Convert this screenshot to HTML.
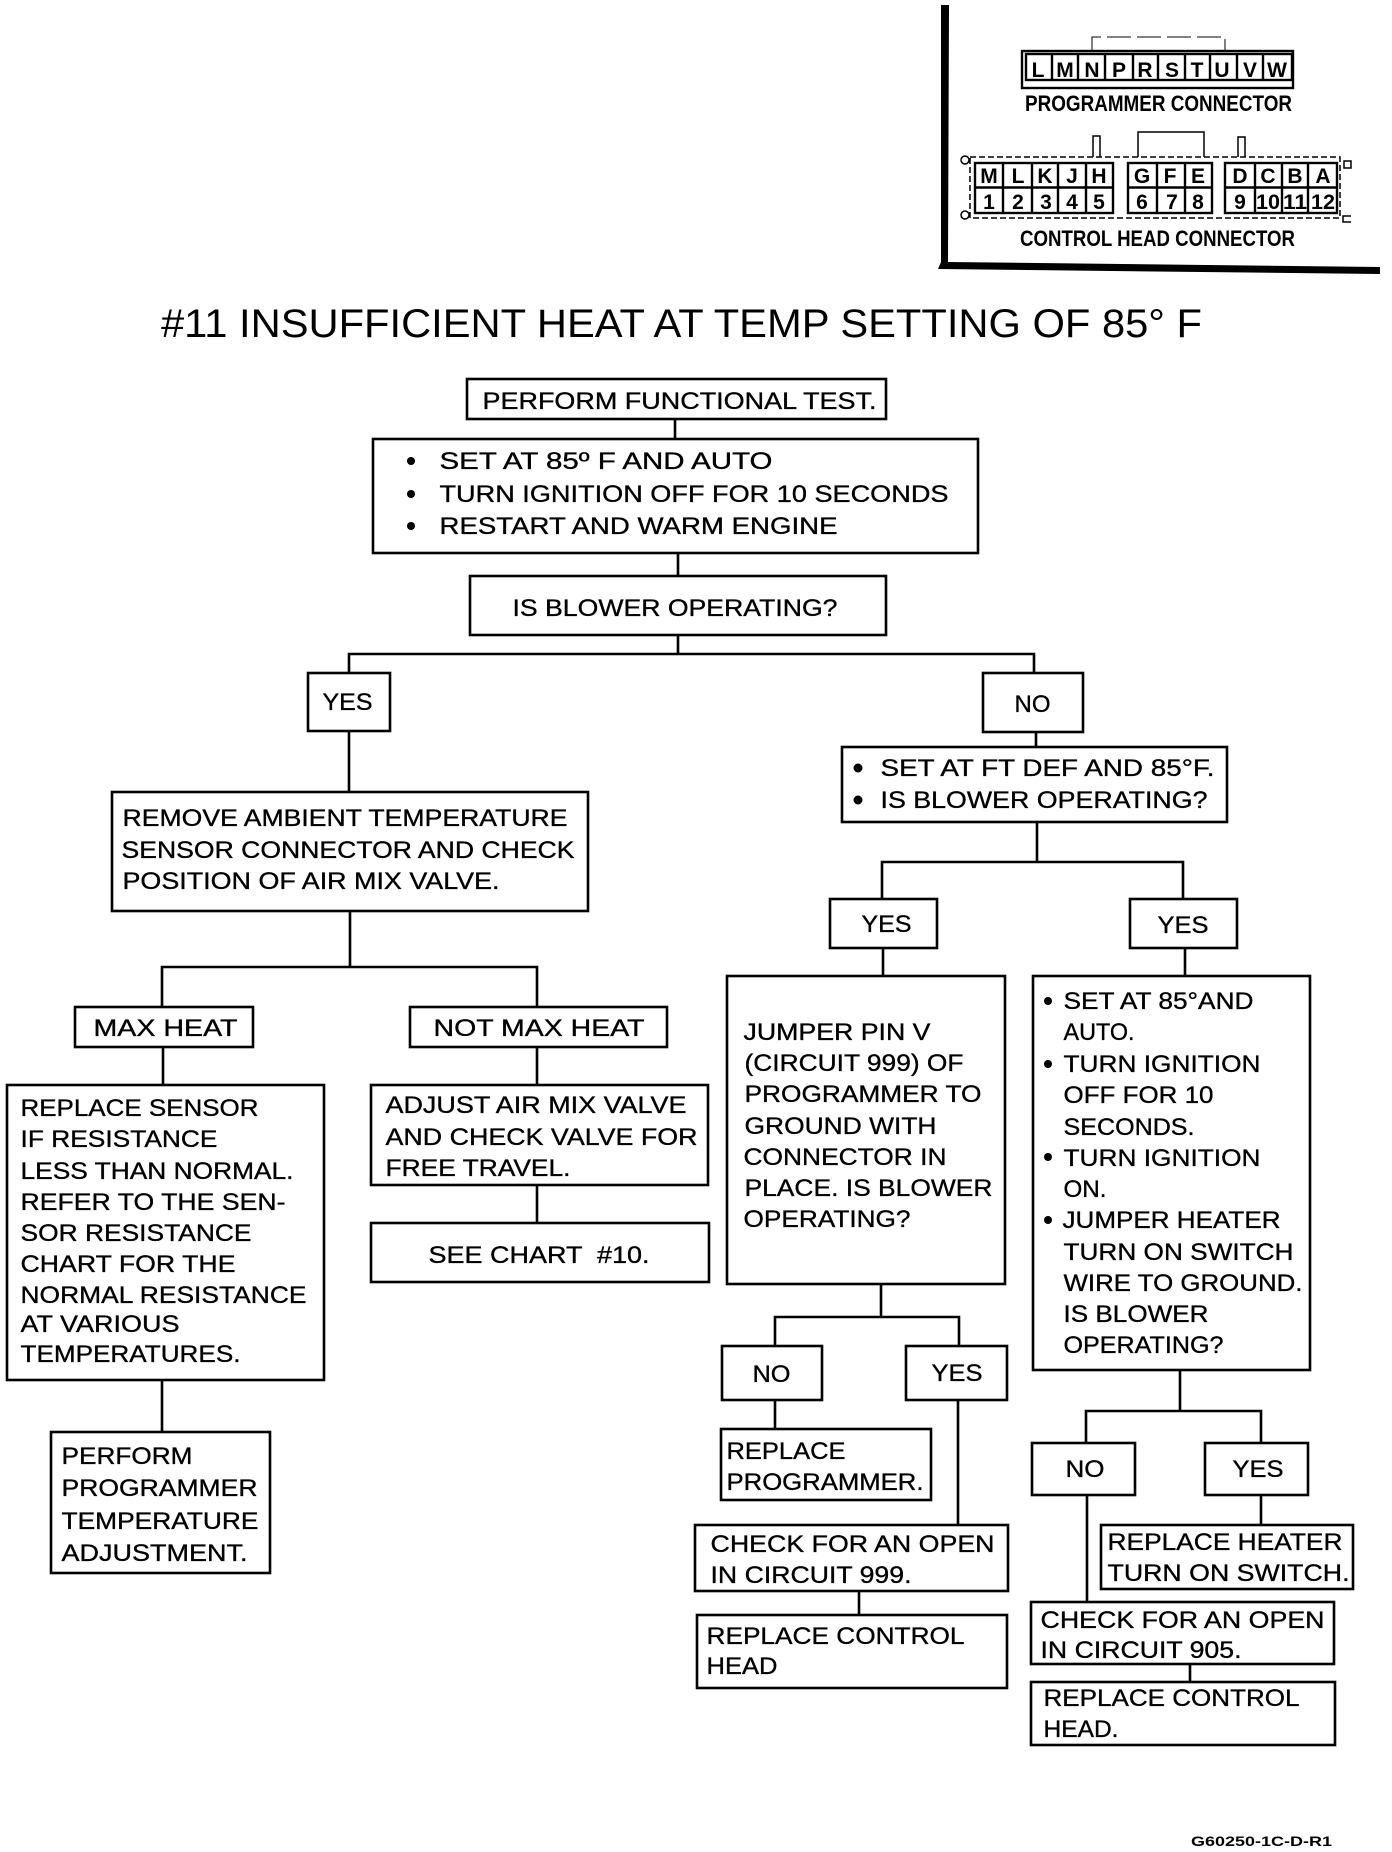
<!DOCTYPE html>
<html><head><meta charset="utf-8"><style>
html,body{margin:0;padding:0;background:#fff}
svg{display:block}
text{font-family:"Liberation Sans",sans-serif;fill:#000}
.t{font-size:24.5px;stroke:#000;stroke-width:.35px;transform:translate(-.5px,-1px)}
.b{fill:#fff;stroke:#000;stroke-width:2.6px}
.l{stroke:#000;stroke-width:2.6px;fill:none}
.c{fill:none;stroke:#000;stroke-width:2.4px}
.k{font-size:21px;font-weight:bold;text-anchor:middle}
.h{font-size:22px;font-weight:bold}
</style></head><body>
<svg width="1392" height="1852" viewBox="0 0 1392 1852" xmlns="http://www.w3.org/2000/svg">
<!-- connector panel -->
<polygon fill="#000" points="941,5 949,5 948,262 1380,267 1380,274 938,269 941,262"/>
<rect class="c" x="1022" y="51" width="271" height="37"/>
<rect class="c" x="1026" y="54" width="266" height="26"/>
<path class="c" d="M1052 54V80M1078 54V80M1105 54V80M1133 54V80M1158 54V80M1185 54V80M1210 54V80M1237 54V80M1263 54V80"/>
<path class="c" stroke-dasharray="24 6" style="stroke-width:1px" d="M1092 52V37H1225V52"/>
<text class="k" x="1038" y="77">L</text><text class="k" x="1065" y="77">M</text><text class="k" x="1092" y="77">N</text><text class="k" x="1119" y="77">P</text><text class="k" x="1145" y="77">R</text><text class="k" x="1172" y="77">S</text><text class="k" x="1197" y="77">T</text><text class="k" x="1222" y="77">U</text><text class="k" x="1250" y="77">V</text><text class="k" x="1277" y="77">W</text>
<text class="h" x="1025" y="111" textLength="267" lengthAdjust="spacingAndGlyphs">PROGRAMMER CONNECTOR</text>
<path class="c" stroke-dasharray="6 3" style="stroke-width:1.5px" d="M970 157H1340V218H970Z"/>
<rect class="c" x="975" y="163" width="138" height="50"/>
<rect class="c" x="1128" y="163" width="84" height="50"/>
<rect class="c" x="1225" y="163" width="112" height="50"/>
<path class="c" d="M975 187.500H1113M1128 187.500H1212M1225 187.500H1337M1003 163V213M1032 163V213M1058 163V213M1086 163V213M1157 163V213M1185 163V213M1255 163V213M1282 163V213M1308 163V213"/>
<path class="c" style="stroke-width:1.5px" d="M1093 157V136H1100V157M1238 157V137H1245V157M1138 157V132H1204V157"/>
<rect class="c" style="stroke-width:1.5px" x="1344" y="161" width="7" height="7"/>
<circle class="c" style="stroke-width:1.5px" cx="965" cy="160" r="4"/><circle class="c" style="stroke-width:1.5px" cx="965" cy="215" r="4"/>
<path class="c" style="stroke-width:1.5px" d="M1351 216H1343V222H1351"/>
<text class="k" x="989" y="183">M</text><text class="k" x="1018" y="183">L</text><text class="k" x="1045" y="183">K</text><text class="k" x="1072" y="183">J</text><text class="k" x="1099" y="183">H</text><text class="k" x="1142" y="183">G</text><text class="k" x="1170" y="183">F</text><text class="k" x="1198" y="183">E</text><text class="k" x="1240" y="183">D</text><text class="k" x="1268" y="183">C</text><text class="k" x="1295" y="183">B</text><text class="k" x="1323" y="183">A</text>
<text class="k" x="989" y="209">1</text><text class="k" x="1018" y="209">2</text><text class="k" x="1046" y="209">3</text><text class="k" x="1072" y="209">4</text><text class="k" x="1099" y="209">5</text><text class="k" x="1142" y="209">6</text><text class="k" x="1172" y="209">7</text><text class="k" x="1198" y="209">8</text><text class="k" x="1240" y="209">9</text><text class="k" x="1268" y="209" textLength="24" lengthAdjust="spacingAndGlyphs">10</text><text class="k" x="1295" y="209" textLength="24" lengthAdjust="spacingAndGlyphs">11</text><text class="k" x="1323" y="209" textLength="24" lengthAdjust="spacingAndGlyphs">12</text>
<text class="h" x="1020" y="246" textLength="275" lengthAdjust="spacingAndGlyphs">CONTROL HEAD CONNECTOR</text>
<!-- title -->
<text x="161" y="337" font-size="40" textLength="1041" lengthAdjust="spacingAndGlyphs">#11 INSUFFICIENT HEAT AT TEMP SETTING OF 85° F</text>
<!-- connectors -->
<path class="l" d="M675 419V439M678 553V576M678 635V654M349 673V654H1034V673M349 731V792M1036 732V747M1037 822V862M882 898V862H1183V898M883 948V976M1185 948V976M350 911V967M162 1007V967H537V1007M163 1047V1085M537 1047V1085M162 1380V1432M537 1185V1223M881 1284V1317M775 1346V1317H959V1346M775 1400V1429M958 1400V1525M859 1591V1615M1180 1370V1411M1086 1443V1411H1261V1443M1087 1495V1602M1261 1495V1525M1190 1664V1682"/>
<!-- boxes -->
<rect class="b" x="467" y="379" width="419" height="40"/>
<rect class="b" x="373" y="439" width="605" height="114"/>
<rect class="b" x="470" y="576" width="416" height="59"/>
<rect class="b" x="308" y="673" width="82" height="58"/>
<rect class="b" x="983" y="673" width="100" height="59"/>
<rect class="b" x="842" y="747" width="385" height="75"/>
<rect class="b" x="112" y="792" width="476" height="119"/>
<rect class="b" x="830" y="899" width="107" height="49"/>
<rect class="b" x="1130" y="899" width="107" height="49"/>
<rect class="b" x="75" y="1007" width="178" height="40"/>
<rect class="b" x="410" y="1007" width="257" height="40"/>
<rect class="b" x="7" y="1085" width="317" height="295"/>
<rect class="b" x="371" y="1085" width="337" height="100"/>
<rect class="b" x="371" y="1223" width="338" height="59"/>
<rect class="b" x="51" y="1432" width="219" height="141"/>
<rect class="b" x="727" y="976" width="278" height="308"/>
<rect class="b" x="1033" y="976" width="277" height="394"/>
<rect class="b" x="722" y="1346" width="100" height="54"/>
<rect class="b" x="906" y="1346" width="101" height="54"/>
<rect class="b" x="721" y="1429" width="210" height="71"/>
<rect class="b" x="695" y="1525" width="313" height="66"/>
<rect class="b" x="697" y="1615" width="310" height="73"/>
<rect class="b" x="1032" y="1443" width="103" height="52"/>
<rect class="b" x="1205" y="1443" width="103" height="52"/>
<rect class="b" x="1101" y="1525" width="252" height="64"/>
<rect class="b" x="1031" y="1602" width="303" height="62"/>
<rect class="b" x="1031" y="1682" width="304" height="63"/>
<!-- bullets -->
<g fill="#000">
<circle cx="411" cy="461" r="4"/><circle cx="411" cy="494" r="4"/><circle cx="411" cy="526" r="4"/>
<circle cx="858" cy="768" r="4.500"/><circle cx="858" cy="800" r="4.500"/>
<circle cx="1048" cy="1001" r="4"/><circle cx="1048" cy="1064" r="4"/><circle cx="1048" cy="1157" r="4"/><circle cx="1048" cy="1220" r="4"/>
</g>
<!-- text -->
<text class="t" x="483" y="410" textLength="394" lengthAdjust="spacingAndGlyphs">PERFORM FUNCTIONAL TEST.</text>
<text class="t" x="440" y="470" textLength="333" lengthAdjust="spacingAndGlyphs">SET AT 85º F AND AUTO</text>
<text class="t" x="440" y="503" textLength="509" lengthAdjust="spacingAndGlyphs">TURN IGNITION OFF FOR 10 SECONDS</text>
<text class="t" x="440" y="535" textLength="398" lengthAdjust="spacingAndGlyphs">RESTART AND WARM ENGINE</text>
<text class="t" x="513" y="617" textLength="325" lengthAdjust="spacingAndGlyphs">IS BLOWER OPERATING?</text>
<text class="t" x="323" y="711" textLength="50" lengthAdjust="spacingAndGlyphs">YES</text>
<text class="t" x="1015" y="713" textLength="36" lengthAdjust="spacingAndGlyphs">NO</text>
<text class="t" x="881" y="777" textLength="334" lengthAdjust="spacingAndGlyphs">SET AT FT DEF AND 85°F.</text>
<text class="t" x="881" y="809" textLength="327" lengthAdjust="spacingAndGlyphs">IS BLOWER OPERATING?</text>
<text class="t" x="123" y="827" textLength="445" lengthAdjust="spacingAndGlyphs">REMOVE AMBIENT TEMPERATURE</text>
<text class="t" x="122" y="859" textLength="453" lengthAdjust="spacingAndGlyphs">SENSOR CONNECTOR AND CHECK</text>
<text class="t" x="123" y="890" textLength="377" lengthAdjust="spacingAndGlyphs">POSITION OF AIR MIX VALVE.</text>
<text class="t" x="862" y="933" textLength="50" lengthAdjust="spacingAndGlyphs">YES</text>
<text class="t" x="1158" y="934" textLength="51" lengthAdjust="spacingAndGlyphs">YES</text>
<text class="t" x="94" y="1037" textLength="144" lengthAdjust="spacingAndGlyphs">MAX HEAT</text>
<text class="t" x="434" y="1037" textLength="211" lengthAdjust="spacingAndGlyphs">NOT MAX HEAT</text>
<text class="t" x="21" y="1117" textLength="238" lengthAdjust="spacingAndGlyphs">REPLACE SENSOR</text>
<text class="t" x="21" y="1148" textLength="197" lengthAdjust="spacingAndGlyphs">IF RESISTANCE</text>
<text class="t" x="21" y="1180" textLength="273" lengthAdjust="spacingAndGlyphs">LESS THAN NORMAL.</text>
<text class="t" x="21" y="1211" textLength="265" lengthAdjust="spacingAndGlyphs">REFER TO THE SEN-</text>
<text class="t" x="21" y="1242" textLength="231" lengthAdjust="spacingAndGlyphs">SOR RESISTANCE</text>
<text class="t" x="21" y="1273" textLength="215" lengthAdjust="spacingAndGlyphs">CHART FOR THE</text>
<text class="t" x="21" y="1304" textLength="286" lengthAdjust="spacingAndGlyphs">NORMAL RESISTANCE</text>
<text class="t" x="21" y="1333" textLength="159" lengthAdjust="spacingAndGlyphs">AT VARIOUS</text>
<text class="t" x="21" y="1363" textLength="220" lengthAdjust="spacingAndGlyphs">TEMPERATURES.</text>
<text class="t" x="386" y="1114" textLength="301" lengthAdjust="spacingAndGlyphs">ADJUST AIR MIX VALVE</text>
<text class="t" x="386" y="1146" textLength="312" lengthAdjust="spacingAndGlyphs">AND CHECK VALVE FOR</text>
<text class="t" x="386" y="1177" textLength="185" lengthAdjust="spacingAndGlyphs">FREE TRAVEL.</text>
<text class="t" x="429" y="1264" textLength="221" lengthAdjust="spacingAndGlyphs" xml:space="preserve">SEE CHART  #10.</text>
<text class="t" x="62" y="1465" textLength="131" lengthAdjust="spacingAndGlyphs">PERFORM</text>
<text class="t" x="62" y="1497" textLength="196" lengthAdjust="spacingAndGlyphs">PROGRAMMER</text>
<text class="t" x="62" y="1530" textLength="197" lengthAdjust="spacingAndGlyphs">TEMPERATURE</text>
<text class="t" x="62" y="1562" textLength="186" lengthAdjust="spacingAndGlyphs">ADJUSTMENT.</text>
<text class="t" x="744" y="1041" textLength="187" lengthAdjust="spacingAndGlyphs">JUMPER PIN V</text>
<text class="t" x="745" y="1072" textLength="219" lengthAdjust="spacingAndGlyphs">(CIRCUIT 999) OF</text>
<text class="t" x="745" y="1103" textLength="237" lengthAdjust="spacingAndGlyphs">PROGRAMMER TO</text>
<text class="t" x="745" y="1135" textLength="192" lengthAdjust="spacingAndGlyphs">GROUND WITH</text>
<text class="t" x="744" y="1166" textLength="203" lengthAdjust="spacingAndGlyphs">CONNECTOR IN</text>
<text class="t" x="745" y="1197" textLength="248" lengthAdjust="spacingAndGlyphs">PLACE. IS BLOWER</text>
<text class="t" x="744" y="1228" textLength="167" lengthAdjust="spacingAndGlyphs">OPERATING?</text>
<text class="t" x="1064" y="1010" textLength="190" lengthAdjust="spacingAndGlyphs">SET AT 85°AND</text>
<text class="t" x="1064" y="1041" textLength="71" lengthAdjust="spacingAndGlyphs">AUTO.</text>
<text class="t" x="1064" y="1073" textLength="197" lengthAdjust="spacingAndGlyphs">TURN IGNITION</text>
<text class="t" x="1064" y="1104" textLength="150" lengthAdjust="spacingAndGlyphs">OFF FOR 10</text>
<text class="t" x="1064" y="1136" textLength="131" lengthAdjust="spacingAndGlyphs">SECONDS.</text>
<text class="t" x="1064" y="1167" textLength="197" lengthAdjust="spacingAndGlyphs">TURN IGNITION</text>
<text class="t" x="1064" y="1198" textLength="43" lengthAdjust="spacingAndGlyphs">ON.</text>
<text class="t" x="1063" y="1229" textLength="218" lengthAdjust="spacingAndGlyphs">JUMPER HEATER</text>
<text class="t" x="1064" y="1261" textLength="230" lengthAdjust="spacingAndGlyphs">TURN ON SWITCH</text>
<text class="t" x="1064" y="1292" textLength="239" lengthAdjust="spacingAndGlyphs">WIRE TO GROUND.</text>
<text class="t" x="1064" y="1323" textLength="145" lengthAdjust="spacingAndGlyphs">IS BLOWER</text>
<text class="t" x="1064" y="1354" textLength="160" lengthAdjust="spacingAndGlyphs">OPERATING?</text>
<text class="t" x="753" y="1383" textLength="38" lengthAdjust="spacingAndGlyphs">NO</text>
<text class="t" x="932" y="1382" textLength="51" lengthAdjust="spacingAndGlyphs">YES</text>
<text class="t" x="727" y="1460" textLength="119" lengthAdjust="spacingAndGlyphs">REPLACE</text>
<text class="t" x="727" y="1491" textLength="197" lengthAdjust="spacingAndGlyphs">PROGRAMMER.</text>
<text class="t" x="711" y="1553" textLength="284" lengthAdjust="spacingAndGlyphs">CHECK FOR AN OPEN</text>
<text class="t" x="711" y="1584" textLength="201" lengthAdjust="spacingAndGlyphs">IN CIRCUIT 999.</text>
<text class="t" x="707" y="1645" textLength="258" lengthAdjust="spacingAndGlyphs">REPLACE CONTROL</text>
<text class="t" x="707" y="1675" textLength="71" lengthAdjust="spacingAndGlyphs">HEAD</text>
<text class="t" x="1066" y="1478" textLength="39" lengthAdjust="spacingAndGlyphs">NO</text>
<text class="t" x="1233" y="1478" textLength="51" lengthAdjust="spacingAndGlyphs">YES</text>
<text class="t" x="1108" y="1551" textLength="235" lengthAdjust="spacingAndGlyphs">REPLACE HEATER</text>
<text class="t" x="1108" y="1582" textLength="242" lengthAdjust="spacingAndGlyphs">TURN ON SWITCH.</text>
<text class="t" x="1041" y="1629" textLength="284" lengthAdjust="spacingAndGlyphs">CHECK FOR AN OPEN</text>
<text class="t" x="1041" y="1659" textLength="201" lengthAdjust="spacingAndGlyphs">IN CIRCUIT 905.</text>
<text class="t" x="1044" y="1707" textLength="256" lengthAdjust="spacingAndGlyphs">REPLACE CONTROL</text>
<text class="t" x="1044" y="1738" textLength="75" lengthAdjust="spacingAndGlyphs">HEAD.</text>
<text x="1191" y="1846" font-size="14" font-weight="bold" textLength="141" lengthAdjust="spacingAndGlyphs">G60250-1C-D-R1</text>
</svg>
</body></html>
